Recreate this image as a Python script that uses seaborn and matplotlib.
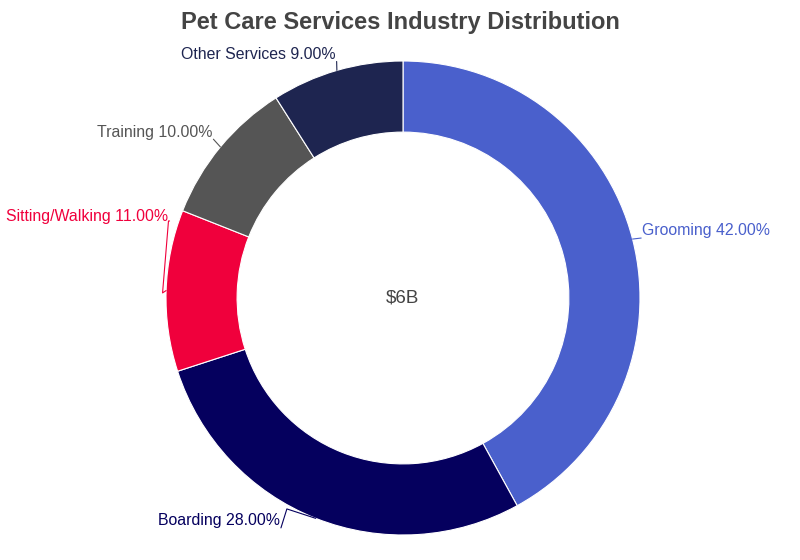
import numpy as np
import seaborn as sns
import matplotlib.pyplot as plt

categories = ['Grooming', 'Boarding', 'Sitting/Walking', 'Training', 'Other Services']
shares = [42.0, 28.0, 11.0, 10.0, 9.0]
colors = ['#4a60cc', '#05005e', '#f0003c', '#555555', '#1e2550']
center_text = '$6B'
title = 'Pet Care Services Industry Distribution'

# label anchor (data units, pie radius = 1) and elbow for the leader line
label_pos = [(1.01, 0.283), (-0.52, -0.94), (-0.99, 0.345), (-0.805, 0.70), (-0.285, 1.028)]
elbows = [None, (-0.49, -0.89), None, None, None]

sns.set_theme(style='white')
plt.rcParams['font.family'] = ['Liberation Sans', 'DejaVu Sans']

fig = plt.figure(figsize=(8, 5.6), dpi=100)
ax = fig.add_axes([166 / 800, 25 / 560, 474 / 800, 474 / 560])

wedges, _ = ax.pie(shares, colors=colors, startangle=90, counterclock=False,
                   radius=1, wedgeprops=dict(width=0.3, edgecolor='white', linewidth=0.8))
ax.set_xlim(-1, 1)
ax.set_ylim(-1, 1)
ax.set_aspect('equal')
ax.axis('off')

for w, cat, val, col, pos, elb in zip(wedges, categories, shares, colors, label_pos, elbows):
    mid = np.deg2rad((w.theta1 + w.theta2) / 2)
    p0 = (1.0 * np.cos(mid), 1.0 * np.sin(mid))
    ha = 'left' if pos[0] > 0 else 'right'
    ax.text(pos[0], pos[1], f'{cat} {val:.2f}%', ha=ha, va='center',
            fontsize=11.4, color=col, clip_on=False)
    end = (pos[0] + (-0.005 if ha == 'left' else 0.005), pos[1] - 0.03)
    if cat == 'Sitting/Walking':
        pts = [p0, (p0[0] - 0.015, p0[1] - 0.01), (p0[0] + 0.01, pos[1] - 0.02),
               (pos[0] + 0.005, pos[1] - 0.02)]
    elif elb is not None:
        pts = [p0, elb, end]
    else:
        pts = [p0, end]
    xs, ys = zip(*pts)
    ax.plot(xs, ys, color=col, lw=0.8, clip_on=False)

ax.text(0, 0, center_text, ha='center', va='center', fontsize=13.5, color='#444444')
fig.text(0.5, 1 - 22 / 560, title, ha='center', va='center', fontsize=17,
         fontweight='bold', color='#444444')

fig.savefig('out.png', dpi=100)
